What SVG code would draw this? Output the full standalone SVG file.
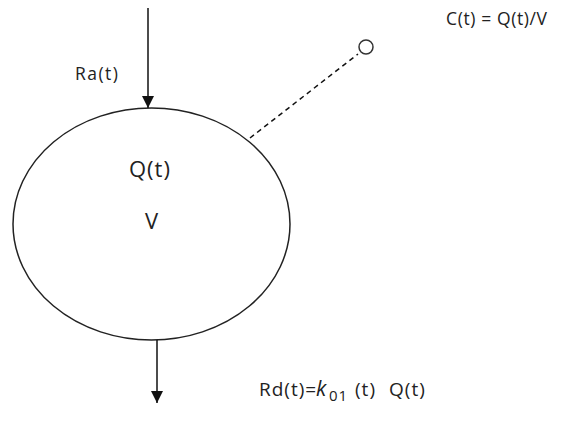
<svg xmlns="http://www.w3.org/2000/svg" width="567" height="432" viewBox="0 0 567 432">
<style>
text{font-family:"Open Sans","Liberation Sans",sans-serif;font-size:17.5px;letter-spacing:1px;fill:#222}
.big{font-size:22px}
.rd{font-size:19px}
.sub{font-size:15px}
.ln{stroke:#111;stroke-width:1.5;fill:none}
</style>
<defs>
<marker id="ah" viewBox="0 0 10 10" refX="10" refY="5" markerWidth="12" markerHeight="12" markerUnits="userSpaceOnUse" orient="auto"><path d="M0,0L10,5L0,10z" fill="#111"/></marker>
</defs>
<rect width="567" height="432" fill="#fff"/>
<g id="compartment">
<ellipse cx="151.5" cy="224" rx="138.5" ry="116" fill="none" stroke="#222" stroke-width="1.5"/>
<text class="big" x="129" y="177">Q(t)</text>
<text class="big" x="145" y="229">V</text>
</g>
<g id="sample">
<circle cx="366" cy="47" r="7" fill="#fff" stroke="#333" stroke-width="1.5"/>
<text x="446" y="25" textLength="102" lengthAdjust="spacing">C(t) = Q(t)/V</text>
</g>
<g id="labels">
<text x="75" y="80" textLength="44" lengthAdjust="spacing">Ra(t)</text>
<text class="rd" y="396"><tspan x="259">Rd(t)=</tspan><tspan font-style="italic" x="316" style="font-size:21px">k</tspan><tspan class="sub" dy="5" x="329">01</tspan><tspan dy="-5" x="355">(t)</tspan><tspan x="389">Q(t)</tspan></text>
</g>
<g id="connectors">
<line class="ln" x1="148" y1="8" x2="148" y2="108" marker-end="url(#ah)"/>
<line class="ln" x1="157" y1="340" x2="157" y2="403" marker-end="url(#ah)"/>
<line class="ln" x1="250" y1="138" x2="358" y2="54" stroke-dasharray="5,4" stroke-width="2" stroke="#333"/>
</g>
</svg>
